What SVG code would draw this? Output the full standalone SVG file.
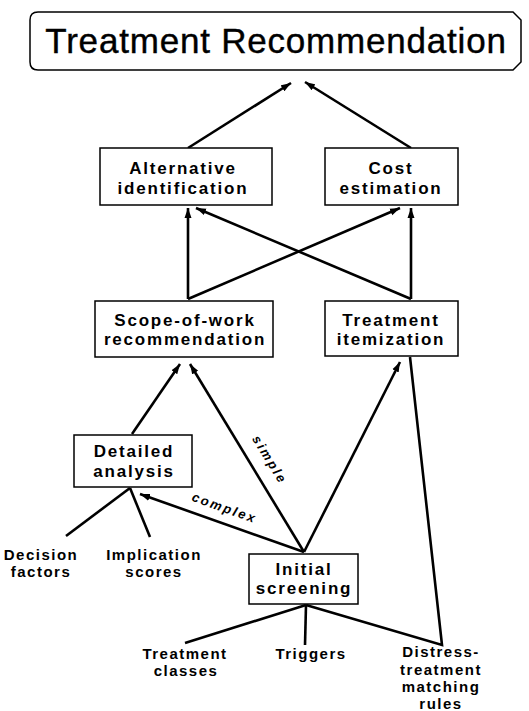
<svg xmlns="http://www.w3.org/2000/svg" width="529" height="711" viewBox="0 0 529 711">
<defs>
<marker id="ah" markerUnits="userSpaceOnUse" markerWidth="11" markerHeight="8" refX="10" refY="4" orient="auto">
<path d="M0,0.5 L10,4 L0,7.5 Z" fill="#000"/>
</marker>
<style>
.box{fill:#fff;stroke:#000;stroke-width:1.5}
.lbl{font-family:"Liberation Sans",Arial,sans-serif;font-weight:bold;font-size:17px;letter-spacing:1.8px;text-anchor:middle;fill:#000}
.leaf{font-family:"Liberation Sans",Arial,sans-serif;font-weight:bold;font-size:15px;letter-spacing:1.5px;text-anchor:middle;fill:#000}
.edge{font-family:"Liberation Sans",Arial,sans-serif;font-weight:bold;font-style:italic;font-size:13px;letter-spacing:2.2px;text-anchor:middle;fill:#000}
.ln{stroke:#000;stroke-width:2.6;fill:none}
.arr{stroke:#000;stroke-width:2.6;fill:none;marker-end:url(#ah)}
</style>
</defs>
<rect width="529" height="711" fill="#fff"/>
<g id="connectors">
<line class="arr" x1="188" y1="148" x2="291" y2="83"/>
<line class="arr" x1="411" y1="148" x2="305" y2="82"/>
<line class="arr" x1="188" y1="299" x2="188" y2="208"/>
<line class="arr" x1="188" y1="299" x2="400" y2="208"/>
<line class="arr" x1="411" y1="299" x2="411" y2="208"/>
<line class="arr" x1="411" y1="299" x2="196" y2="208"/>
<line class="arr" x1="132" y1="434" x2="180" y2="364"/>
<line class="arr" x1="304" y1="552" x2="190" y2="364"/>
<line class="arr" x1="304" y1="552" x2="140" y2="494"/>
<line class="arr" x1="304" y1="552" x2="400" y2="362"/>
<polyline class="ln" points="410,357 442,645 306,605"/>
<line class="ln" x1="306" y1="605" x2="185" y2="643"/>
<line class="ln" x1="306" y1="605" x2="305" y2="645"/>
<line class="ln" x1="130" y1="488" x2="66" y2="536"/>
<line class="ln" x1="130" y1="488" x2="150" y2="537"/>
<text class="edge" transform="translate(266,462) rotate(58.4)">simple</text>
<text class="edge" transform="translate(223,512) rotate(19.5)">complex</text>
</g>
<g id="treatment-recommendation">
<path class="box" d="M38,12 L513,12 L521,20 L521,62 L513,70 L38,70 Q30,70 30,62 L30,20 Q30,12 38,12 Z"/>
<text x="276" y="53" font-family="Liberation Sans, Arial, sans-serif" font-size="35" letter-spacing="0.8" text-anchor="middle" stroke="#000" stroke-width="0.4">Treatment Recommendation</text>
</g>
<g id="alternative-identification">
<rect class="box" x="100" y="148" width="172" height="57"/>
<text class="lbl" x="183" y="174">Alternative</text>
<text class="lbl" x="183" y="194">identification</text>
</g>
<g id="cost-estimation">
<rect class="box" x="325" y="148" width="133" height="57"/>
<text class="lbl" x="391" y="174">Cost</text>
<text class="lbl" x="391" y="194">estimation</text>
</g>
<g id="scope-of-work">
<rect class="box" x="95" y="301" width="178" height="56"/>
<text class="lbl" x="185" y="326">Scope-of-work</text>
<text class="lbl" x="185" y="345">recommendation</text>
</g>
<g id="treatment-itemization">
<rect class="box" x="325" y="301" width="133" height="55"/>
<text class="lbl" x="391" y="326">Treatment</text>
<text class="lbl" x="391" y="345">itemization</text>
</g>
<g id="detailed-analysis">
<rect class="box" x="74" y="435" width="118" height="52"/>
<text class="lbl" x="134" y="457">Detailed</text>
<text class="lbl" x="134" y="477">analysis</text>
</g>
<g id="initial-screening">
<rect class="box" x="249" y="554" width="109" height="50"/>
<text class="lbl" x="304" y="575">Initial</text>
<text class="lbl" x="304" y="594">screening</text>
</g>
<g id="decision-factors">
<text class="leaf" x="41" y="560">Decision</text>
<text class="leaf" x="41" y="577">factors</text>
</g>
<g id="implication-scores">
<text class="leaf" x="154" y="560">Implication</text>
<text class="leaf" x="154" y="577">scores</text>
</g>
<g id="treatment-classes">
<text class="leaf" x="185" y="659">Treatment</text>
<text class="leaf" x="186" y="676">classes</text>
</g>
<g id="triggers">
<text class="leaf" x="311" y="659">Triggers</text>
</g>
<g id="distress-treatment">
<text class="leaf" x="441" y="657">Distress-</text>
<text class="leaf" x="441" y="675">treatment</text>
<text class="leaf" x="441" y="692">matching</text>
<text class="leaf" x="441" y="709">rules</text>
</g>
</svg>
